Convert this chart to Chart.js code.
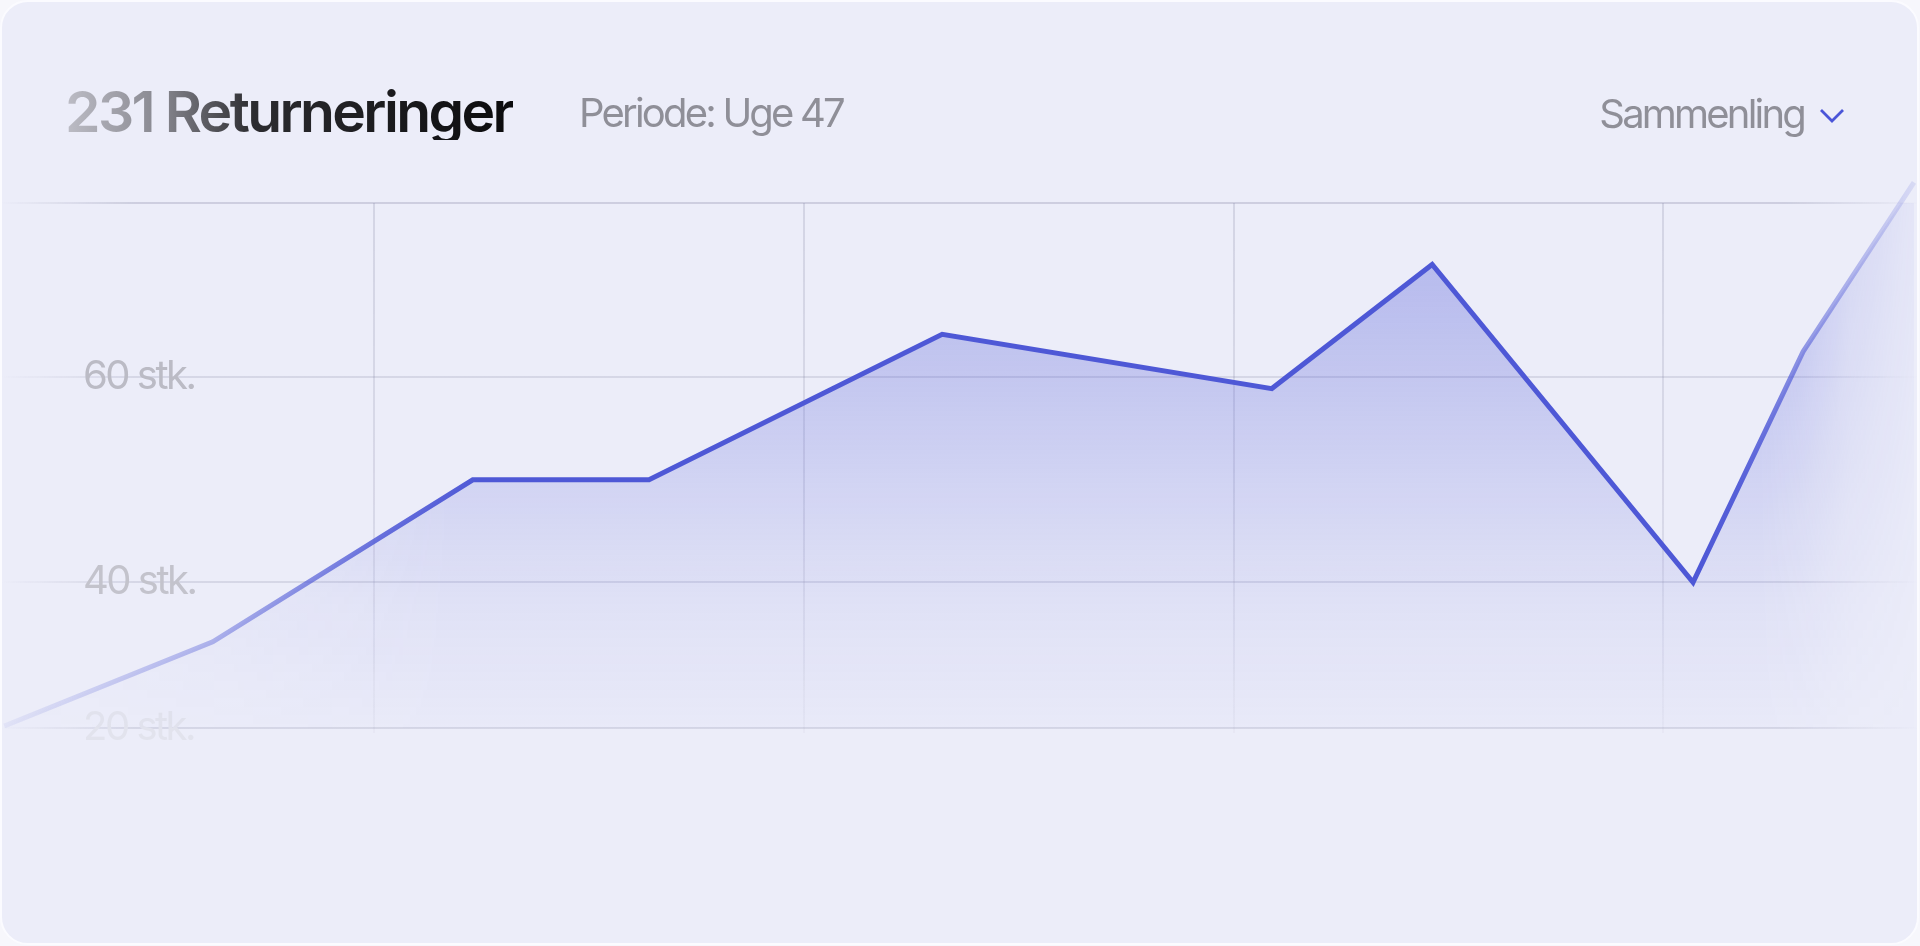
<!DOCTYPE html>
<html lang="da">
<head>
<meta charset="utf-8">
<title>231 Returneringer</title>
<script src="https://cdn.jsdelivr.net/npm/chart.js@4.4.1/dist/chart.umd.min.js"></script>
<style>
    html, body {
        margin: 0;
        padding: 0;
        width: 1920px;
        height: 946px;
        overflow: hidden;
        background: #f7f7fc;
        font-family: Inter, "Noto Sans", sans-serif;
    }
    .card {
        position: absolute;
        left: 0;
        top: 0;
        width: 1915px;
        height: 941px;
        border: 2px solid #fbfbff;
        border-radius: 28px;
        background: #ecedf9;
        overflow: hidden;
    }
    .chart-wrap {
        position: absolute;
        left: -2px;
        top: -2px;
        width: 1920px;
        height: 946px;
    }
    .title {
        position: absolute;
        left: 63px;
        top: 81px;
        font-size: 57px;
        line-height: 1;
        font-weight: 600;
        letter-spacing: -0.046em;
        white-space: nowrap;
        background: linear-gradient(90deg, #bdbdc6 0%, #85858d 22%, #2c2c30 42%, #0b0b0d 100%);
        -webkit-background-clip: text;
        background-clip: text;
        color: transparent;
    }
    .period, .compare {
        position: absolute;
        font-size: 40px;
        line-height: 1;
        font-weight: 400;
        letter-spacing: -0.07em;
        color: #8f8f98;
        white-space: nowrap;
    }
    .period { left: 577px; top: 91px; }
    .compare { right: 113px; top: 92px; }
    .chevron {
        position: absolute;
        left: 1815px;
        top: 103px;
    }
</style>
</head>
<body>
<div class="card">
    <div class="chart-wrap"><canvas id="returnsChart"></canvas></div>
    <div class="title">231 Returneringer</div>
    <div class="period">Periode: Uge 47</div>
    <div class="compare">Sammenling</div>
    <svg class="chevron" width="30" height="20" viewBox="0 0 30 20">
        <polyline points="4,5 15,16 26,5" fill="none" stroke="#4a55d8" stroke-width="2.8"/>
    </svg>
</div>

<script>
'use strict';

// Chart data
var xValues = [0.14, 0.625, 1.23, 1.64, 2.322, 3.089, 3.462, 4.069, 4.325, 4.583];
var yValues = [26.0, 34.2, 50, 50, 64.2, 58.9, 71.0, 40, 62.5, 79.0];

// Axis range and tick marks
var xRange = [0.13, 4.597];
var xGridValues = [1, 2, 3, 4];
var yRange = [25.8, 77];
var yTickValues = [25.8, 40, 60, 77];
var yTickLabels = ['20 stk.', '40 stk.', '60 stk.', ''];
var yTickColors = ['#e2e3ed', '#c3c3cc', '#bbbbc5', 'rgba(0,0,0,0)'];

var LINE_RGB = '78, 88, 214';
var GRID_RGB = '135, 136, 165';

function rgba(rgb, a) {
    return 'rgba(' + rgb + ', ' + a + ')';
}

/**
 * Horizontal fade for the line stroke
 */
function lineGradient(chart) {
    var area = chart.chartArea;
    if (!area) {
        return rgba(LINE_RGB, 1);
    }
    var g = chart.ctx.createLinearGradient(area.left, 0, area.right, 0);
    g.addColorStop(0, rgba(LINE_RGB, 0.06));
    g.addColorStop(0.11, rgba(LINE_RGB, 0.4));
    g.addColorStop(0.2, rgba(LINE_RGB, 0.85));
    g.addColorStop(0.25, rgba(LINE_RGB, 1));
    g.addColorStop(0.885, rgba(LINE_RGB, 1));
    g.addColorStop(0.905, rgba(LINE_RGB, 0.95));
    g.addColorStop(0.92, rgba(LINE_RGB, 0.82));
    g.addColorStop(0.94, rgba(LINE_RGB, 0.58));
    g.addColorStop(1, rgba(LINE_RGB, 0.1));
    return g;
}

/**
 * Area fill: vertical gradient masked by a horizontal fade at both ends
 */
var fillCache = null;
function fillPattern(chart) {
    var area = chart.chartArea;
    if (!area) {
        return rgba(LINE_RGB, 0.2);
    }
    var key = chart.width + 'x' + chart.height;
    if (fillCache && fillCache.key === key) {
        return fillCache.pattern;
    }
    var off = document.createElement('canvas');
    off.width = chart.width;
    off.height = chart.height;
    var c = off.getContext('2d');

    var v = c.createLinearGradient(0, 182, 0, 745);
    v.addColorStop(0, rgba(LINE_RGB, 0.4));
    v.addColorStop((203 - 182) / 563, rgba(LINE_RGB, 0.38));
    v.addColorStop((390 - 182) / 563, rgba(LINE_RGB, 0.245));
    v.addColorStop((490 - 182) / 563, rgba(LINE_RGB, 0.16));
    v.addColorStop((600 - 182) / 563, rgba(LINE_RGB, 0.08));
    v.addColorStop(1, rgba(LINE_RGB, 0.01));
    c.fillStyle = v;
    c.fillRect(0, 0, off.width, off.height);

    var w = off.width;
    var h = c.createLinearGradient(0, 0, w, 0);
    h.addColorStop(0, 'rgba(0,0,0,0.15)');
    h.addColorStop(215 / w, 'rgba(0,0,0,0.5)');
    h.addColorStop(450 / w, 'rgba(0,0,0,1)');
    h.addColorStop(1760 / w, 'rgba(0,0,0,1)');
    h.addColorStop(1800 / w, 'rgba(0,0,0,0.8)');
    h.addColorStop(1850 / w, 'rgba(0,0,0,0.4)');
    h.addColorStop(1900 / w, 'rgba(0,0,0,0.18)');
    h.addColorStop(1, 'rgba(0,0,0,0.1)');
    c.globalCompositeOperation = 'destination-in';
    c.fillStyle = h;
    c.fillRect(0, 0, off.width, off.height);

    fillCache = { key: key, pattern: chart.ctx.createPattern(off, 'no-repeat') };
    return fillCache.pattern;
}

function horizontalGridColor(context) {
    var chart = context.chart;
    var area = chart.chartArea;
    if (!area) {
        return rgba(GRID_RGB, 0.22);
    }
    var a = context.index === yTickValues.length - 1 ? 0.3 : 0.22;
    var g = chart.ctx.createLinearGradient(area.left, 0, area.right, 0);
    g.addColorStop(0, rgba(GRID_RGB, 0));
    g.addColorStop(0.07, rgba(GRID_RGB, a));
    g.addColorStop(0.93, rgba(GRID_RGB, a));
    g.addColorStop(1, rgba(GRID_RGB, 0));
    return g;
}

function verticalGridColor(context) {
    var chart = context.chart;
    var area = chart.chartArea;
    if (!area) {
        return rgba(GRID_RGB, 0.22);
    }
    var g = chart.ctx.createLinearGradient(0, area.top, 0, area.bottom + 5);
    g.addColorStop(0, rgba(GRID_RGB, 0.24));
    g.addColorStop(0.6, rgba(GRID_RGB, 0.2));
    g.addColorStop(1, rgba(GRID_RGB, 0.05));
    return g;
}

var points = xValues.map(function(x, i) {
    return { x: x, y: yValues[i] };
});

var tightText = {
    id: 'tightText',
    beforeDraw: function(chart) {
        chart.ctx.letterSpacing = '-2.5px';
    }
};

new Chart(document.getElementById('returnsChart'), {
    type: 'line',
    data: {
        datasets: [{
            label: 'Returneringer',
            data: points,
            borderColor: function(context) { return lineGradient(context.chart); },
            backgroundColor: function(context) { return fillPattern(context.chart); },
            borderWidth: 5,
            borderJoinStyle: 'miter',
            fill: 'start',
            tension: 0,
            pointRadius: 0,
            pointHoverRadius: 0,
            clip: false
        }]
    },
    options: {
        responsive: true,
        maintainAspectRatio: false,
        animation: false,
        events: [],
        layout: {
            padding: { top: 203, bottom: 213, left: 0, right: 0 }
        },
        plugins: {
            legend: { display: false },
            tooltip: { enabled: false }
        },
        scales: {
            x: {
                type: 'linear',
                min: xRange[0],
                max: xRange[1],
                afterBuildTicks: function(axis) {
                    axis.ticks = xGridValues.map(function(v) { return { value: v }; });
                },
                ticks: { display: false },
                grid: {
                    color: verticalGridColor,
                    lineWidth: 2,
                    drawTicks: true,
                    tickLength: 5
                },
                border: { display: false }
            },
            y: {
                type: 'linear',
                min: yRange[0],
                max: yRange[1],
                afterBuildTicks: function(axis) {
                    axis.ticks = yTickValues.map(function(v) { return { value: v }; });
                },
                // labels sit inside the plot, so the axis itself takes no room
                afterFit: function(axis) {
                    axis.width = 0;
                },
                ticks: {
                    mirror: true,
                    padding: 83,
                    font: { family: 'Inter', size: 40, weight: '400' },
                    color: function(context) { return yTickColors[context.index]; },
                    callback: function(value) {
                        return yTickLabels[yTickValues.indexOf(value)];
                    }
                },
                grid: {
                    color: horizontalGridColor,
                    lineWidth: 2,
                    drawTicks: false
                },
                border: { display: false }
            }
        }
    },
    plugins: [tightText]
});
</script>
</body>
</html>
